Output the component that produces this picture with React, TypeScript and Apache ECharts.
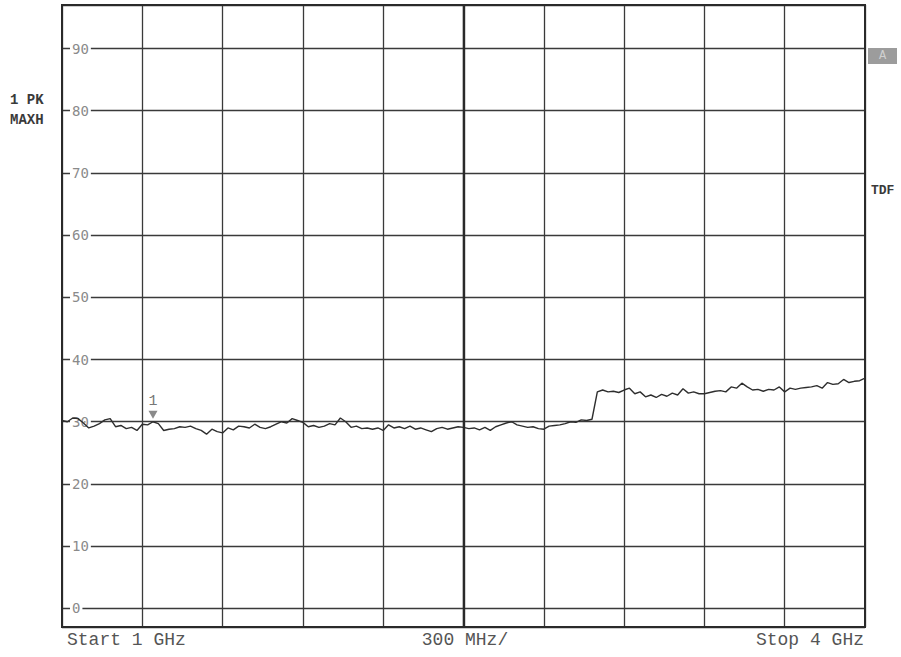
import React, { useEffect, useRef } from "react";
import * as echarts from "echarts";

// Sweep: 1 GHz to 4 GHz, one reading every 20 MHz (values in dBµV)
const START_MHZ = 1000;
const STEP_MHZ = 20;
const STOP_MHZ = 4000;
const DIV_MHZ = 300;

const traceValues: number[] = [
  30.2, 30.0, 30.6, 30.5, 29.8, 29.0, 29.3, 29.7, 30.3, 30.5,
  29.2, 29.4, 28.9, 29.1, 28.6, 29.6, 29.5, 30.0, 29.7, 28.6,
  28.8, 28.9, 29.2, 29.1, 29.3, 28.9, 28.6, 28.0, 28.8, 28.4,
  28.2, 29.0, 28.7, 29.3, 29.2, 29.0, 29.6, 29.1, 28.9, 29.2,
  29.6, 30.0, 29.8, 30.5, 30.2, 29.9, 29.2, 29.4, 29.1, 29.3,
  29.7, 29.5, 30.6, 30.0, 29.1, 29.3, 28.9, 29.0, 28.8, 29.0,
  28.6, 29.5, 29.0, 29.2, 28.9, 29.3, 28.8, 29.0, 28.7, 28.4,
  28.9, 29.1, 28.8, 29.0, 29.2, 29.1, 28.9, 29.0, 28.7, 29.1,
  28.6, 29.2, 29.5, 29.8, 30.0, 29.5, 29.3, 29.1, 29.2, 28.9,
  28.8, 29.3, 29.4, 29.5, 29.7, 30.0, 29.9, 30.3, 30.2, 30.4,
  34.8, 35.1, 34.8, 34.9, 34.7, 35.1, 35.4, 34.5, 34.8, 34.0,
  34.3, 33.9, 34.4, 34.1, 34.6, 34.3, 35.3, 34.6, 34.8, 34.5,
  34.5, 34.7, 34.9, 35.0, 34.8, 35.6, 35.4, 36.2, 35.6, 35.1,
  35.2, 34.9, 35.2, 35.1, 35.6, 34.8, 35.4, 35.2, 35.4, 35.5,
  35.6, 35.8, 35.4, 36.3, 36.0, 36.1, 36.8, 36.3, 36.5, 36.6,
  37.0,
];

const REF_LEVEL = 97;
const BOTTOM_LEVEL = -3;
const MARKER_INDEX = 17; // marker 1 near 1.34 GHz
const MARKER_LABEL = "1";

const leftLabels = ["1 PK", "MAXH"];
const rightLabels = ["A", "TDF"];
const bottomLabels = ["Start 1 GHz", "300 MHz/", "Stop 4 GHz"];

const MONO = "'Liberation Mono', 'DejaVu Sans Mono', monospace";

export default function App() {
  const ref = useRef<HTMLDivElement>(null);

  useEffect(() => {
    if (!ref.current) return;
    const chart = echarts.init(ref.current, undefined, { renderer: "svg" });
    const data = traceValues.map((v, i) => [START_MHZ + i * STEP_MHZ, v]);

    chart.setOption({
      animation: false,
      backgroundColor: "#fff",
      grid: {
        left: 62,
        right: 36,
        top: 5,
        bottom: 30,
        show: true,
        borderColor: "#2a2a2a",
        borderWidth: 2,
        backgroundColor: "transparent",
        z: 3,
      },
      xAxis: {
        type: "value",
        min: START_MHZ,
        max: STOP_MHZ,
        interval: DIV_MHZ,
        axisLine: { show: false },
        axisTick: { show: false },
        axisLabel: { show: false },
        splitLine: { show: true, lineStyle: { color: "#3a3a3a", width: 1.3 } },
      },
      yAxis: {
        type: "value",
        min: BOTTOM_LEVEL,
        max: REF_LEVEL,
        splitNumber: 10,
        axisLine: { show: false },
        axisTick: { show: false },
        axisLabel: {
          inside: true,
          margin: 8,
          color: "#8a8a8a",
          fontFamily: "'DejaVu Sans Mono', monospace",
          fontSize: 14,
          backgroundColor: "#fff",
          padding: [0, 2],
          formatter: (v: number) => (Math.round(v) % 10 === 0 ? String(Math.round(v)) : ""),
        },
        splitLine: { show: true, lineStyle: { color: "#3a3a3a", width: 1.3 } },
      },
      series: [
        {
          type: "line",
          data,
          showSymbol: false,
          symbol: "none",
          lineStyle: { color: "#2e2e2e", width: 1.4 },
          z: 4,
          markLine: {
            silent: true,
            symbol: "none",
            label: { show: false },
            lineStyle: { color: "#2a2a2a", width: 2.4, type: "solid" },
            data: [{ xAxis: (START_MHZ + STOP_MHZ) / 2 }],
          },
          markPoint: {
            symbol: "triangle",
            symbolSize: [9, 8],
            symbolRotate: 180,
            symbolOffset: [0, -7],
            itemStyle: { color: "#8a8a8a" },
            label: {
              show: true,
              position: "top",
              distance: 2,
              color: "#777",
              fontFamily: MONO,
              fontSize: 15,
              formatter: MARKER_LABEL,
            },
            data: [{ coord: data[MARKER_INDEX] }],
          },
        },
      ],
      graphic: [
        {
          type: "text",
          left: 10,
          top: 93,
          style: { text: leftLabels[0], font: `bold 14px ${MONO}`, fill: "#3a3a3a" },
        },
        {
          type: "text",
          left: 10,
          top: 113,
          style: { text: leftLabels[1], font: `bold 14px ${MONO}`, fill: "#3a3a3a" },
        },
        {
          type: "rect",
          shape: { x: 868, y: 48, width: 29, height: 16 },
          style: { fill: "#9c9c9c" },
        },
        {
          type: "text",
          x: 882.5,
          y: 56,
          style: {
            text: rightLabels[0],
            font: `12px ${MONO}`,
            fill: "#d0d0d0",
            align: "center",
            verticalAlign: "middle",
          },
        },
        {
          type: "text",
          x: 871,
          y: 190,
          style: {
            text: rightLabels[1],
            font: `bold 13px ${MONO}`,
            fill: "#3a3a3a",
            verticalAlign: "middle",
          },
        },
        {
          type: "text",
          x: 67,
          y: 640,
          style: { text: bottomLabels[0], font: `18px ${MONO}`, fill: "#555", verticalAlign: "middle" },
        },
        {
          type: "text",
          x: 465,
          y: 640,
          style: {
            text: bottomLabels[1],
            font: `18px ${MONO}`,
            fill: "#555",
            align: "center",
            verticalAlign: "middle",
          },
        },
        {
          type: "text",
          x: 864,
          y: 640,
          style: {
            text: bottomLabels[2],
            font: `18px ${MONO}`,
            fill: "#555",
            align: "right",
            verticalAlign: "middle",
          },
        },
      ],
    });

    return () => chart.dispose();
  }, []);

  return (
    <div
      ref={ref}
      style={{ position: "fixed", left: 0, top: 0, width: 901, height: 657, background: "#fff" }}
    />
  );
}
